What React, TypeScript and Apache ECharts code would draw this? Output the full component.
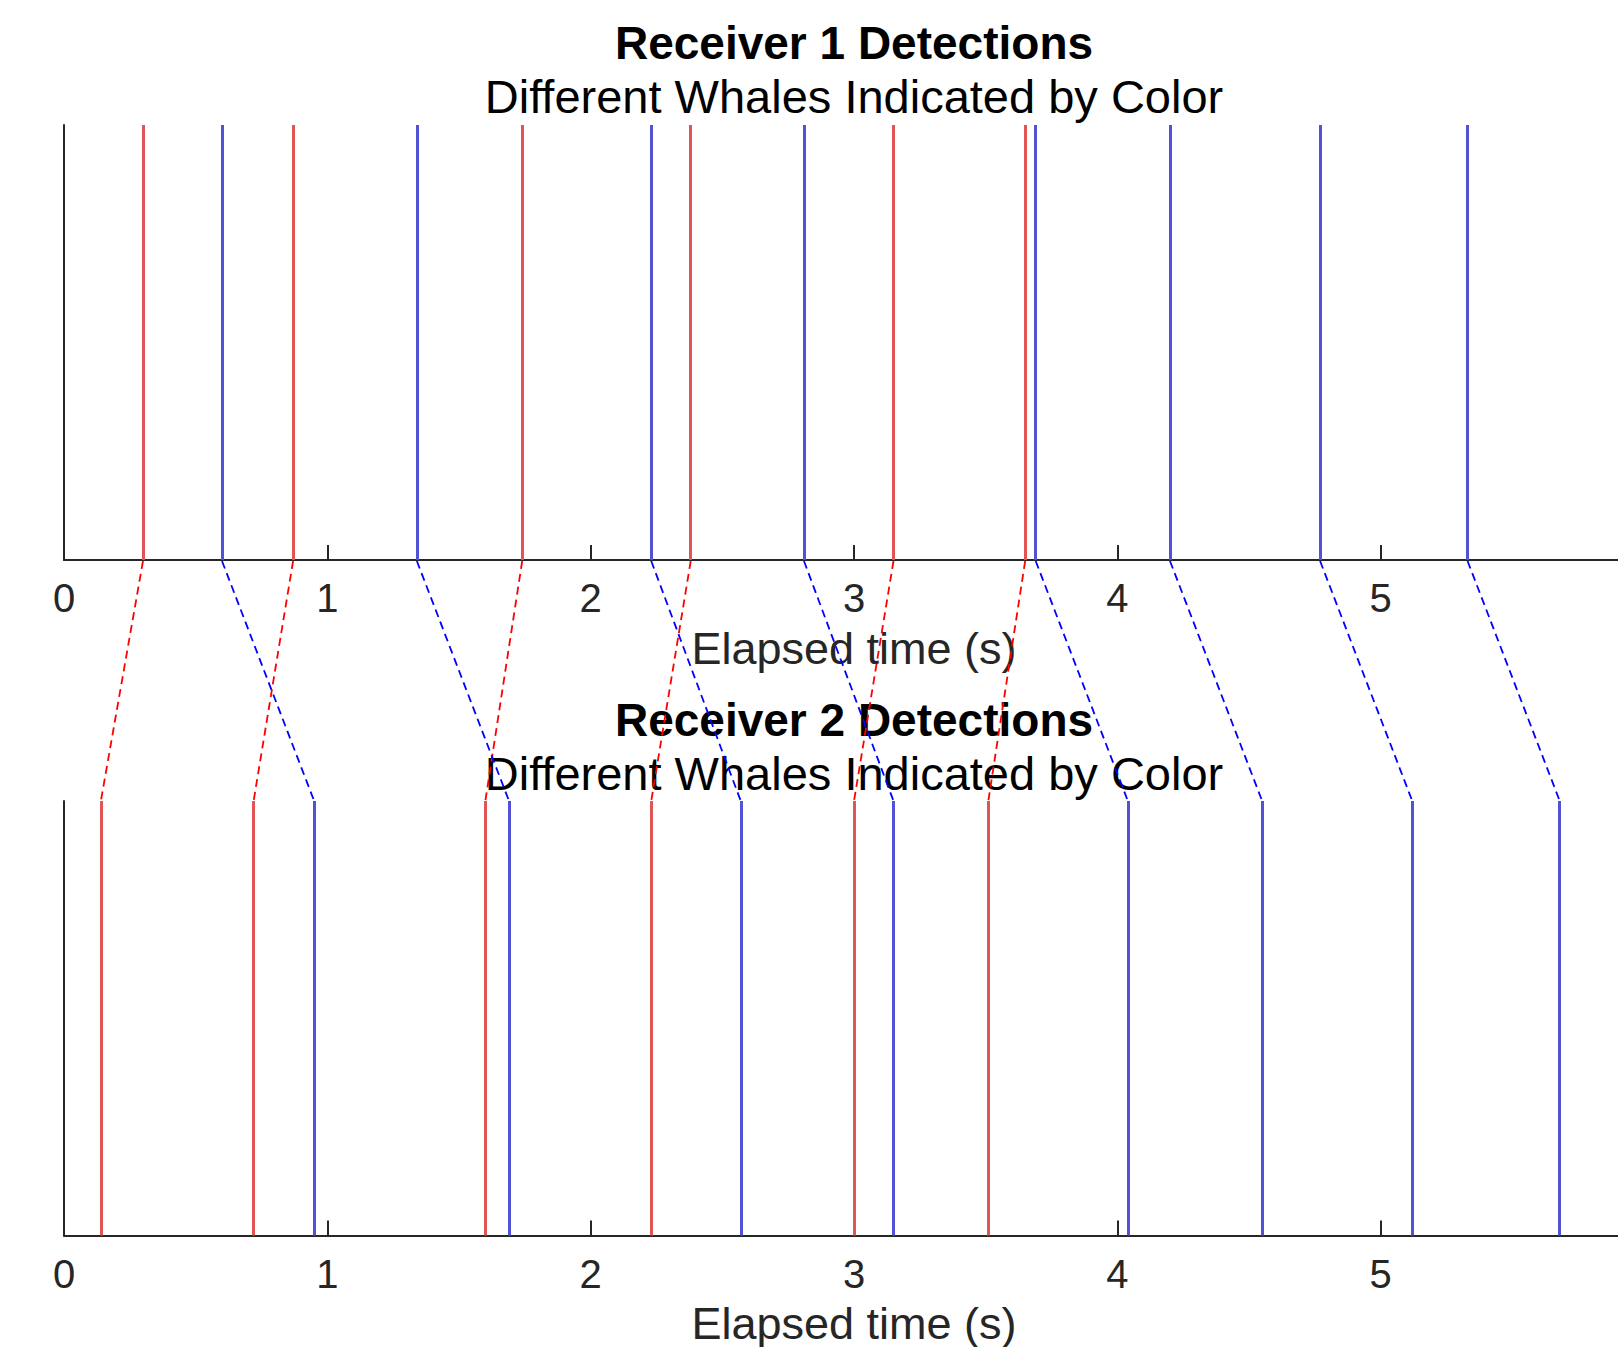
import React, { useEffect, useRef } from "react";
import * as echarts from "echarts";

// Data (seconds)
const xTicks = [0, 1, 2, 3, 4, 5, 6];
const receiver1Red = [0.30, 0.87, 1.74, 2.38, 3.15, 3.65];
const receiver1Blue = [0.60, 1.34, 2.23, 2.81, 3.69, 4.20, 4.77, 5.33];
const receiver2Red = [0.14, 0.72, 1.60, 2.23, 3.00, 3.51];
const receiver2Blue = [0.95, 1.69, 2.57, 3.15, 4.04, 4.55, 5.12, 5.68];
const titles = ["Receiver 1 Detections", "Receiver 2 Detections"];
const subtitle = "Different Whales Indicated by Color";
const axisName = "Elapsed time (s)";

const FONT = '"Liberation Sans", Helvetica, Arial, sans-serif';
const AXIS_COLOR = "#262626";
const RED = "#e25555";
const BLUE = "#5252d6";

export default function App() {
  const ref = useRef<HTMLDivElement>(null);

  useEffect(() => {
    if (!ref.current) return;
    const chart = echarts.init(ref.current, undefined, { renderer: "svg" });

    const left = 64;
    const width = 1580;
    const xMin = xTicks[0];
    const xMax = xTicks[xTicks.length - 1];

    const mkX = (gridIndex: number, show: boolean) => ({
      type: "value",
      gridIndex,
      min: xMin,
      max: xMax,
      interval: 1,
      show,
      name: show ? axisName : "",
      nameLocation: "middle",
      nameGap: 68,
      nameTextStyle: { fontSize: 45, lineHeight: 40, fontFamily: FONT, color: AXIS_COLOR },
      axisLine: { show: true, lineStyle: { color: AXIS_COLOR, width: 2 } },
      axisTick: { show: true, inside: true, length: 15, lineStyle: { color: AXIS_COLOR, width: 2 } },
      axisLabel: {
        show: true,
        fontSize: 40,
        fontFamily: FONT,
        color: AXIS_COLOR,
        margin: 18,
        showMaxLabel: false,
      },
      splitLine: { show: false },
    });

    const mkY = (gridIndex: number, show: boolean) => ({
      type: "value",
      gridIndex,
      min: 0,
      max: 1,
      show,
      axisLine: { show: true, lineStyle: { color: AXIS_COLOR, width: 2 } },
      axisTick: { show: false },
      axisLabel: { show: false },
      splitLine: { show: false },
    });

    const detections = (times: number[], grid: number, color: string) => ({
      type: "lines",
      coordinateSystem: "cartesian2d",
      xAxisIndex: grid,
      yAxisIndex: grid,
      z: 3,
      lineStyle: { color, width: 3, opacity: 1 },
      data: times.map((t) => ({ coords: [[t, 0], [t, 1]] })),
    });

    const links = (a: number[], b: number[], color: string) => ({
      type: "lines",
      coordinateSystem: "cartesian2d",
      xAxisIndex: 2,
      yAxisIndex: 2,
      z: 5,
      lineStyle: { color, width: 1.8, type: [8, 5], opacity: 1 },
      data: a.map((t, i) => ({ coords: [[t, 1], [b[i], 0]] })),
    });

    const centerX = left + width / 2;
    const titleText = (text: string, y: number, bold: boolean) => ({
      type: "text",
      x: centerX,
      y,
      z: 1,
      style: {
        text,
        fontSize: bold ? 46 : 47,
        fontWeight: bold ? "bold" : "normal",
        fontFamily: FONT,
        fill: "#000000",
        align: "center",
        verticalAlign: "middle",
      },
    });

    chart.setOption({
      animation: false,
      backgroundColor: "#ffffff",
      grid: [
        { left, top: 125, width, height: 435 },
        { left, top: 801, width, height: 437 },
        { left, top: 561, width, height: 240 },
      ],
      xAxis: [mkX(0, true), mkX(1, true), mkX(2, false)],
      yAxis: [mkY(0, true), mkY(1, true), mkY(2, false)],
      graphic: [
        titleText(titles[0], 43, true),
        titleText(subtitle, 96, false),
        titleText(titles[1], 720, true),
        titleText(subtitle, 773, false),
      ],
      series: [
        detections(receiver1Red, 0, RED),
        detections(receiver1Blue, 0, BLUE),
        detections(receiver2Red, 1, RED),
        detections(receiver2Blue, 1, BLUE),
        links(receiver1Red, receiver2Red, "#ff0000"),
        links(receiver1Blue, receiver2Blue, "#0000ff"),
      ],
    });

    return () => chart.dispose();
  }, []);

  return (
    <div
      style={{
        position: "absolute",
        left: 0,
        top: 0,
        width: 1618,
        height: 1347,
        overflow: "hidden",
        background: "#fff",
      }}
    >
      <div ref={ref} style={{ width: 1700, height: 1347 }} />
    </div>
  );
}
